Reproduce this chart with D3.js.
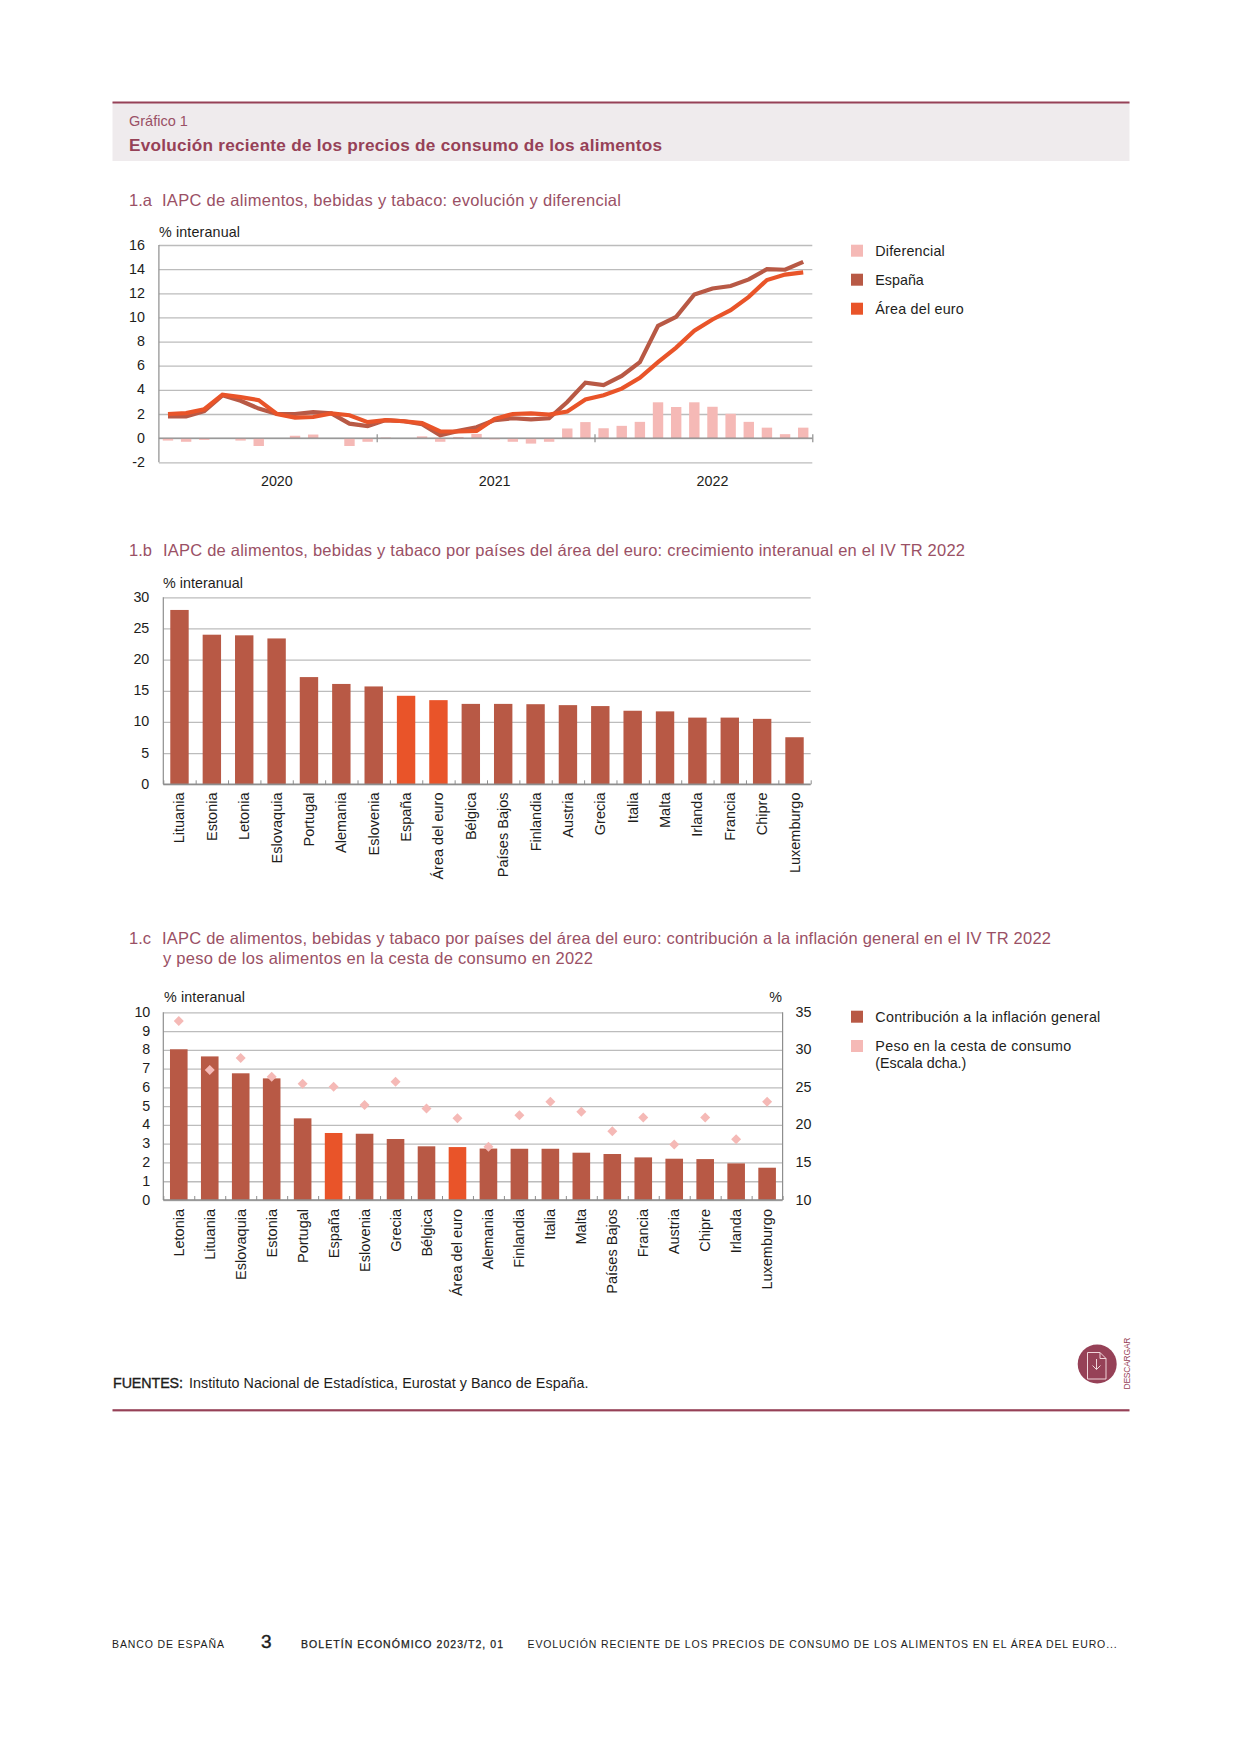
<!DOCTYPE html>
<html><head><meta charset="utf-8">
<style>
html,body{margin:0;padding:0;background:#fff}
svg{display:block}
text{font-family:"Liberation Sans",Arial,sans-serif;fill:#1d1d1b}
</style>
<script src="https://cdn.jsdelivr.net/npm/d3@7"></script>
</head><body><svg id="c" width="1241" height="1754"></svg>
<script>
const months = d3.range(36).map(i => `${2020+Math.floor(i/12)}-${String(i%12+1).padStart(2,'0')}`);
const espana = [1.8,1.8,2.25,3.55,3.1,2.45,2.0,2.0,2.15,2.05,1.2,1.0,1.5,1.4,1.15,0.25,0.6,0.9,1.5,1.65,1.55,1.65,3.0,4.6,4.4,5.15,6.3,9.3,10.05,11.9,12.4,12.6,13.15,14.0,13.95,14.6];
const euro = [2.0,2.07,2.4,3.6,3.4,3.15,2.0,1.7,1.75,2.05,1.9,1.33,1.5,1.4,1.25,0.55,0.55,0.6,1.6,2.0,2.05,1.95,2.2,3.2,3.55,4.1,5.0,6.3,7.5,8.9,9.83,10.6,11.7,13.1,13.55,13.73];
const diferencial = [-0.2,-0.3,-0.15,0,-0.2,-0.65,0,0.2,0.3,0,-0.65,-0.3,0.05,0,0.15,-0.3,0.1,0.35,-0.1,-0.3,-0.45,-0.3,0.8,1.33,0.82,1.02,1.35,2.97,2.58,2.97,2.6,2.02,1.35,0.87,0.33,0.87];
const yearLabels = ["2020","2021","2022"];
const ticksA = d3.range(-2,17,2);

const paisesB = ["Lituania","Estonia","Letonia","Eslovaquia","Portugal","Alemania","Eslovenia","España","Área del euro","Bélgica","Países Bajos","Finlandia","Austria","Grecia","Italia","Malta","Irlanda","Francia","Chipre","Luxemburgo"];
const crecimiento = [27.97,24.0,23.9,23.4,17.2,16.1,15.7,14.2,13.5,12.9,12.9,12.85,12.7,12.55,11.8,11.7,10.7,10.7,10.5,7.55];

const paisesC = ["Letonia","Lituania","Eslovaquia","Estonia","Portugal","España","Eslovenia","Grecia","Bélgica","Área del euro","Alemania","Finlandia","Italia","Malta","Países Bajos","Francia","Austria","Chipre","Irlanda","Luxemburgo"];
const contribucion = [8.03,7.65,6.75,6.48,4.35,3.57,3.53,3.25,2.86,2.82,2.74,2.73,2.73,2.52,2.45,2.27,2.2,2.18,1.95,1.72];
const peso = [33.85,27.3,28.9,26.4,25.5,25.1,22.65,25.75,22.2,20.9,17.1,21.3,23.1,21.75,19.15,21.0,17.4,21.0,18.1,23.1];

const C = {maroon:"#964157", title:"#9a5065", band:"#efebed", brown:"#b85945", orange:"#e95429", pink:"#f5b9b6", grid:"#bcbcbc", axis:"#8e8e8e", ink:"#1d1d1b"};
const svg = d3.select("#c");
const PAGE_L=112.5, PAGE_W=1017;

function T(x,y,s,o={}){
  const t = svg.append("text").attr("x",x).attr("y",y).text(s)
    .attr("font-size",o.size||14.3).style("fill",o.fill||C.ink);
  if(o.bold) t.attr("font-weight","bold");
  if(o.anchor) t.attr("text-anchor",o.anchor);
  if(o.len) t.attr("textLength",o.len).attr("lengthAdjust","spacing");
  return t;
}
function styleGrid(g){
  g.select(".domain").remove();
  g.selectAll("line").attr("stroke",C.grid).attr("stroke-width",1.3);
  g.selectAll("text").attr("font-size",14.3).attr("dy","0.28em").style("fill",C.ink).attr("font-family",'"Liberation Sans",Arial,sans-serif');
}
function legend(x,y,color,lines,tx,lens){
  svg.append("rect").attr("x",x).attr("y",y).attr("width",12).attr("height",12).attr("fill",color);
  lines.forEach((l,i)=>T(tx,y+11.3+i*16.6,l,{len:lens[i]}));
}
function rotLabels(cats,xs,top,size){
  svg.append("g").selectAll("text").data(cats).join("text")
    .attr("transform",d=>`translate(${xs(d)+xs.bandwidth()/2+5},${top}) rotate(-90)`)
    .attr("text-anchor","end").attr("font-size",size||14.5).text(d=>d);
}

/* page furniture */
svg.append("rect").attr("x",PAGE_L).attr("y",102).attr("width",PAGE_W).attr("height",59).attr("fill",C.band);
svg.append("rect").attr("x",PAGE_L).attr("y",101.5).attr("width",PAGE_W).attr("height",2).attr("fill",C.maroon);
T(129,126,"Gráfico 1",{fill:C.title,size:14.5});
T(129,151,"Evolución reciente de los precios de consumo de los alimentos",{fill:C.maroon,bold:true,size:17.2,len:533});
T(129,206,"1.a",{fill:C.title,size:16.5});
T(162,206,"IAPC de alimentos, bebidas y tabaco: evolución y diferencial",{fill:C.title,size:16.5,len:459});
T(129,556,"1.b",{fill:C.title,size:16.5});
T(163,556,"IAPC de alimentos, bebidas y tabaco por países del área del euro: crecimiento interanual en el IV TR 2022",{fill:C.title,size:16.5,len:802});
T(129,944,"1.c",{fill:C.title,size:16.5});
T(162,944,"IAPC de alimentos, bebidas y tabaco por países del área del euro: contribución a la inflación general en el IV TR 2022",{fill:C.title,size:16.5,len:889});
T(163,964,"y peso de los alimentos en la cesta de consumo en 2022",{fill:C.title,size:16.5,len:430});

/* 1.a */
{
  const L=158.9,R=812.3,yA=d3.scaleLinear().domain([-2,16]).range([462.3,245]);
  const x=d3.scaleBand().domain(months).range([L,R]);
  const xYear=d3.scaleLinear().domain([2020,2023]).range([L,R]);
  svg.append("g").attr("transform",`translate(${L},0)`)
    .call(d3.axisLeft(yA).tickValues(ticksA).tickFormat(d=>String(d)).tickSize(-(R-L)).tickPadding(14)).call(styleGrid);
  svg.append("line").attr("x1",L).attr("x2",L).attr("y1",yA(16)).attr("y2",yA(-2)).attr("stroke",C.axis).attr("stroke-width",1.2);
  svg.append("g").selectAll("rect").data(diferencial).join("rect")
    .attr("x",(d,i)=>x(months[i])+x.bandwidth()/2-5.2).attr("width",10.4)
    .attr("y",d=>yA(Math.max(d,0))).attr("height",d=>Math.abs(yA(d)-yA(0))).attr("fill",C.pink);
  svg.append("line").attr("x1",L).attr("x2",R).attr("y1",yA(0)).attr("y2",yA(0)).attr("stroke",C.axis).attr("stroke-width",1.3);
  const ax=svg.append("g").attr("transform",`translate(0,${yA(0)})`)
    .call(d3.axisBottom(xYear).tickValues([2021,2022,2023]).tickFormat("").tickSize(4));
  ax.select(".domain").remove();
  ax.selectAll("line").attr("y1",-4).attr("y2",4).attr("stroke",C.axis).attr("stroke-width",1.2);
  const line=d3.line().x((d,i)=>x(months[i])+x.bandwidth()/2).y(d=>yA(d));
  svg.append("path").datum(espana).attr("d",line).attr("fill","none").attr("stroke",C.brown).attr("stroke-width",4.2);
  svg.append("path").datum(euro).attr("d",line).attr("fill","none").attr("stroke",C.orange).attr("stroke-width",4.2);
  yearLabels.forEach((y,i)=>T(x(months[i*12+6])+x.bandwidth()/2,486,y,{anchor:"middle"}));
  T(159,236.7,"% interanual",{len:81});
  legend(851,244.7,C.pink,["Diferencial"],875.3,[69.5]);
  legend(851,273.7,C.brown,["España"],875.3,[48.5]);
  legend(851,302.7,C.orange,["Área del euro"],875.3,[88.5]);
}

/* 1.b */
{
  const L=163.3,R=810.7,y=d3.scaleLinear().domain([0,30]).range([784.3,597.3]);
  const x=d3.scaleBand().domain(paisesB).range([L,R]);
  svg.append("g").attr("transform",`translate(${L},0)`)
    .call(d3.axisLeft(y).ticks(6).tickSize(-(R-L)).tickPadding(14)).call(styleGrid);
  svg.append("line").attr("x1",L).attr("x2",L).attr("y1",y(30)).attr("y2",y(0)).attr("stroke",C.axis).attr("stroke-width",1.2);
  svg.append("g").selectAll("rect").data(crecimiento).join("rect")
    .attr("x",(d,i)=>x(paisesB[i])+x.bandwidth()/2-9.2).attr("width",18.4)
    .attr("y",d=>y(d)).attr("height",d=>y(0)-y(d))
    .attr("fill",(d,i)=>(paisesB[i]==="España"||paisesB[i]==="Área del euro")?C.orange:C.brown);
  svg.append("line").attr("x1",L).attr("x2",R).attr("y1",y(0)).attr("y2",y(0)).attr("stroke",C.axis).attr("stroke-width",1.4);
  const ax=svg.append("g").attr("transform",`translate(0,${y(0)})`)
    .call(d3.axisTop(d3.scaleLinear().domain([0,20]).range([L,R])).ticks(20).tickFormat("").tickSize(4));
  ax.select(".domain").remove();
  ax.selectAll("line").attr("stroke",C.axis).attr("stroke-width",1);
  rotLabels(paisesB,x,792.5);
  T(163,588,"% interanual",{len:80});
}

/* 1.c */
{
  const L=163.3,R=782.6,y=d3.scaleLinear().domain([0,10]).range([1200,1012.3]);
  const y2=d3.scaleLinear().domain([10,35]).range([1200,1012.3]);
  const x=d3.scaleBand().domain(paisesC).range([L,R]);
  svg.append("g").attr("transform",`translate(${L},0)`)
    .call(d3.axisLeft(y).ticks(10).tickSize(-(R-L)).tickPadding(13)).call(styleGrid);
  const ar=svg.append("g").attr("transform",`translate(${R},0)`)
    .call(d3.axisRight(y2).tickValues(d3.range(10,36,5)).tickSize(0).tickPadding(13));
  ar.select(".domain").remove();
  ar.selectAll("text").attr("font-size",14.3).attr("dy","0.28em").style("fill",C.ink).attr("font-family",'"Liberation Sans",Arial,sans-serif');
  [L,R].forEach(v=>svg.append("line").attr("x1",v).attr("x2",v).attr("y1",y(10)).attr("y2",y(0)).attr("stroke",C.axis).attr("stroke-width",1.2));
  svg.append("g").selectAll("rect").data(contribucion).join("rect")
    .attr("x",(d,i)=>x(paisesC[i])+x.bandwidth()/2-8.8).attr("width",17.6)
    .attr("y",d=>y(d)).attr("height",d=>y(0)-y(d))
    .attr("fill",(d,i)=>(paisesC[i]==="España"||paisesC[i]==="Área del euro")?C.orange:C.brown);
  svg.append("line").attr("x1",L).attr("x2",R).attr("y1",y(0)).attr("y2",y(0)).attr("stroke",C.axis).attr("stroke-width",1.4);
  const ax=svg.append("g").attr("transform",`translate(0,${y(0)})`)
    .call(d3.axisTop(d3.scaleLinear().domain([0,20]).range([L,R])).ticks(20).tickFormat("").tickSize(4));
  ax.select(".domain").remove();
  ax.selectAll("line").attr("stroke",C.axis).attr("stroke-width",1);
  const sym=d3.symbol().type(d3.symbolSquare).size(50);
  svg.append("g").selectAll("path").data(peso).join("path").attr("d",sym)
    .attr("transform",(d,i)=>`translate(${x(paisesC[i])+x.bandwidth()/2},${y2(d)}) rotate(45)`).attr("fill",C.pink);
  rotLabels(paisesC,x,1209);
  T(164,1001.7,"% interanual",{len:81});
  T(782,1001.7,"%",{anchor:"end"});
  legend(851,1010.7,C.brown,["Contribución a la inflación general"],875.3,[225]);
  legend(851,1040,C.pink,["Peso en la cesta de consumo","(Escala dcha.)"],875.3,[196,91]);
}

/* footer */
const f=T(113,1388,"FUENTES:",{size:14.3,len:70}); f.style("stroke",C.ink).style("stroke-width",0.35);
T(189,1388,"Instituto Nacional de Estadística, Eurostat y Banco de España.",{size:14.3,len:399.6});
svg.append("rect").attr("x",PAGE_L).attr("y",1409.2).attr("width",PAGE_W).attr("height",2.2).attr("fill",C.maroon);
T(112,1648,"BANCO DE ESPAÑA",{size:10.5,len:112});
T(261,1648,"3",{size:19,len:11}).style("stroke",C.ink).style("stroke-width",0.4);
T(301,1648,"BOLETÍN ECONÓMICO 2023/T2, 01",{size:10.5,len:202}).style("stroke",C.ink).style("stroke-width",0.25);
T(527.6,1648,"EVOLUCIÓN RECIENTE DE LOS PRECIOS DE CONSUMO DE LOS ALIMENTOS EN EL ÁREA DEL EURO...",{size:10.5,len:589});

/* download icon */
svg.append("circle").attr("cx",1097.2).attr("cy",1364).attr("r",19.5).attr("fill",C.maroon);
svg.append("path").attr("d","M1087.5,1352.5h12.5l6,6v20.5h-18.5z M1100,1352.5v6h6 M1096.5,1359v10.5 M1092.5,1365.5l4,4l4-4")
  .attr("fill","none").attr("stroke","#f0d5da").attr("stroke-width",1);
svg.append("text").attr("transform","translate(1130,1389.5) rotate(-90)").attr("font-size",8.5).style("fill",C.maroon)
  .attr("textLength",52).text("DESCARGAR");
</script></body></html>
